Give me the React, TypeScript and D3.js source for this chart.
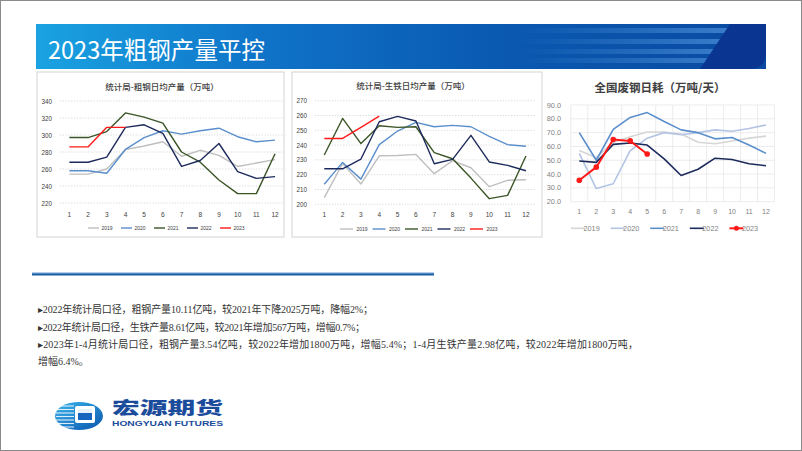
import React from 'react';
import * as d3 from 'd3';

// ---------- DATA ----------
const months = ['1', '2', '3', '4', '5', '6', '7', '8', '9', '10', '11', '12'];
const years = ['2019', '2020', '2021', '2022', '2023'];

// 统计局-粗钢日均产量（万吨）
const steel2019 = [254, 254, 260, 283, 287, 292, 275, 282, 276, 263, 267, 271];
const steel2020 = [258, 258, 255, 283, 297, 305, 301, 305, 308, 298, 292, 294];
const steel2021 = [297, 297, 304, 326, 321, 314, 280, 268, 247, 231, 231, 278];
const steel2022 = [268, 268, 274, 309, 312, 302, 263, 270, 290, 257, 249, 251];
const steel2023 = [286, 286, 309, 309];
const steelTicks = [220, 240, 260, 280, 300, 320, 340];

// 统计局-生铁日均产量（万吨）
const iron2019 = [204.5, 227.5, 213.7, 232.8, 233, 233.7, 220.7, 229.5, 224.7, 211.9, 216.2, 216.6];
const iron2020 = [213.5, 228.3, 217, 240.3, 249.5, 255.4, 252.4, 253.3, 252.4, 245.9, 240.3, 239.2];
const iron2021 = [233.3, 258, 241, 253.1, 252, 252.4, 234.9, 230.8, 217.7, 203.8, 206, 232.6];
const iron2022 = [224, 224, 230.6, 255.8, 259.4, 256.3, 227.4, 230.4, 246.6, 228.6, 226.3, 222.7];
const iron2023 = [244.5, 244.5, 252, 259.6];
const ironTicks = [200, 210, 220, 230, 240, 250, 260, 270];

// 全国废钢日耗（万吨/天）
const scrap2019 = [57, 52, 63, 67, 70.5, 70.5, 69, 63, 62, 64, 66, 67.5];
const scrap2020 = [55, 29.5, 33, 57, 66, 70, 68.5, 70, 72, 71, 73, 75.5];
const scrap2021 = [70, 50, 72.4, 81, 84.5, 78, 72, 70, 65.5, 66.5, 61, 55];
const scrap2022 = [49.5, 48.5, 61.5, 62.5, 61, 51, 39, 43.5, 51.5, 50.5, 47.5, 46];
const scrap2023 = [35.5, 45, 65, 64, 54.5];
const scrapTicks = [20, 30, 40, 50, 60, 70, 80, 90];

const bullets = [
  '▸2022年统计局口径，粗钢产量10.11亿吨，较2021年下降2025万吨，降幅2%；',
  '▸2022年统计局口径，生铁产量8.61亿吨，较2021年增加567万吨，增幅0.7%；',
  '▸2023年1-4月统计局口径，粗钢产量3.54亿吨，较2022年增加1800万吨，增幅5.4%；1-4月生铁产量2.98亿吨，较2022年增加1800万吨，',
  '增幅6.4%。',
];

const CJK = '"Noto Sans CJK SC", "Noto Sans", sans-serif';
const NUM = '"Liberation Sans", Arial, sans-serif';

type Series = { name: string; values: number[]; color: string; width: number; marker?: boolean };

type ChartProps = {
  title: string;
  titleX: number;
  titleY: number;
  titleSize: number;
  titleWeight: number;
  xRange: [number, number];
  yDomain: [number, number];
  yRange: [number, number];
  ticks: number[];
  tickFmt: (v: number) => string;
  yLabelX: number;
  yLabelSize: number;
  xLabelY: number;
  xLabelSize: number;
  labelColor: string;
  gridStyle: 'dot' | 'solid';
  vgrid: boolean;
  series: Series[];
  legendY: number;
  legendX0: number;
  legendStep: number;
  legendLen: number;
  legendTextOff: number;
  legendSize: number;
};

function LineChart(p: ChartProps) {
  const x = d3.scaleBand<string>().domain(months).range(p.xRange).paddingInner(0).paddingOuter(0);
  const y = d3.scaleLinear().domain(p.yDomain).range(p.yRange);
  const cx = (i: number) => (x(months[i]) as number) + x.bandwidth() / 2;
  const line = d3
    .line<number>()
    .x((_, i) => cx(i))
    .y((d) => y(d));
  return (
    <g>
      <text x={p.titleX} y={p.titleY} textAnchor="middle" dominantBaseline="central" fontFamily={CJK} fontSize={p.titleSize} fontWeight={p.titleWeight} fill="#404040">
        {p.title}
      </text>
      {p.ticks.map((t) => (
        <g key={t}>
          <line
            x1={p.xRange[0]}
            x2={p.xRange[1]}
            y1={y(t)}
            y2={y(t)}
            stroke={p.gridStyle === 'dot' ? '#cfcfcf' : '#e4e4e4'}
            strokeWidth={p.gridStyle === 'dot' ? 0.8 : 0.7}
            strokeDasharray={p.gridStyle === 'dot' ? '1.2,1.6' : undefined}
          />
          <text x={p.yLabelX} y={y(t)} textAnchor="end" dominantBaseline="central" fontFamily={NUM} fontSize={p.yLabelSize} fill={p.labelColor}>
            {p.tickFmt(t)}
          </text>
        </g>
      ))}
      {p.vgrid &&
        months.concat(['end']).map((m, i) => {
          const xx = p.xRange[0] + i * x.step();
          return <line key={'v' + m} x1={xx} x2={xx} y1={p.yRange[1]} y2={p.yRange[0]} stroke="#e4e4e4" strokeWidth={0.7} />;
        })}
      {months.map((m, i) => (
        <text key={'x' + m} x={cx(i)} y={p.xLabelY} textAnchor="middle" dominantBaseline="central" fontFamily={NUM} fontSize={p.xLabelSize} fill={p.labelColor}>
          {m}
        </text>
      ))}
      {p.series.map((s) => (
        <g key={s.name}>
          <path d={line(s.values) || ''} fill="none" stroke={s.color} strokeWidth={s.width} strokeLinejoin="round" />
          {s.marker && s.values.map((v, i) => <circle key={i} cx={cx(i)} cy={y(v)} r={2.8} fill={s.color} />)}
        </g>
      ))}
      {p.series.map((s, i) => {
        const lx = p.legendX0 + i * p.legendStep;
        return (
          <g key={'lg' + s.name}>
            <line x1={lx} x2={lx + p.legendLen} y1={p.legendY} y2={p.legendY} stroke={s.color} strokeWidth={s.width} />
            {s.marker && <circle cx={lx + p.legendLen / 2} cy={p.legendY} r={2.5} fill={s.color} />}
            <text x={lx + p.legendTextOff} y={p.legendY} dominantBaseline="central" fontFamily={NUM} fontSize={p.legendSize} fill={p.labelColor}>
              {s.name}
            </text>
          </g>
        );
      })}
    </g>
  );
}

const cSteel = ['#bfbfbf', '#5b8fcc', '#3b5527', '#1d2b5c', '#ff1a1a'];
const cScrap = ['#d6d6d6', '#b3c4e4', '#5b8fcc', '#1d2b5c', '#ff1a1a'];

export default function App() {
  const steelSeries: Series[] = [steel2019, steel2020, steel2021, steel2022, steel2023].map((v, i) => ({ name: years[i], values: v, color: cSteel[i], width: 1.4 }));
  const ironSeries: Series[] = [iron2019, iron2020, iron2021, iron2022, iron2023].map((v, i) => ({ name: years[i], values: v, color: cSteel[i], width: 1.4 }));
  const scrapSeries: Series[] = [scrap2019, scrap2020, scrap2021, scrap2022, scrap2023].map((v, i) => ({
    name: years[i],
    values: v,
    color: cScrap[i],
    width: i === 4 ? 2 : 1.6,
    marker: i === 4,
  }));

  const stripeYs = [28, 39, 49, 58];
  const bulletYs = [309, 327.5, 344.5, 361.5];
  const bulletLens: (number | undefined)[] = [335, 327, 600, undefined];

  return (
    <svg width={802} height={451} style={{ position: 'absolute', left: 0, top: 0, background: '#fff' }}>
      <defs>
        <linearGradient id="band" x1="0" x2="1" y1="0" y2="0">
          <stop offset="0" stopColor="#1aa3e2" />
          <stop offset="0.3" stopColor="#0f74c8" />
          <stop offset="0.65" stopColor="#0a58b0" />
          <stop offset="1" stopColor="#0a4aa2" />
        </linearGradient>
        <linearGradient id="stripe" x1="0" x2="1" y1="0" y2="0">
          <stop offset="0" stopColor="#4a8fd8" stopOpacity="0" />
          <stop offset="1" stopColor="#4a8fd8" stopOpacity="0.75" />
        </linearGradient>
        <linearGradient id="logoG" x1="0" x2="1" y1="0" y2="1">
          <stop offset="0" stopColor="#38b4ec" />
          <stop offset="1" stopColor="#0c56ae" />
        </linearGradient>
      </defs>
      <rect x={0.5} y={0.5} width={801} height={450} fill="#fff" stroke="#8a8a8a" strokeWidth={1} />

      {/* header band */}
      <rect x={36} y={24} width={730} height={45} fill="url(#band)" />
      {stripeYs.map((sy) => (
        <rect key={sy} x={520} y={sy} width={215} height={5} fill="url(#stripe)" />
      ))}
      <path d="M730,24 L766,24 L766,52 Q766,69 749,69 L700,69 Z" fill="#0a3591" />
      <text x={48} y={48} dominantBaseline="central" fontFamily={CJK} fontSize={24} fill="#ffffff" textLength={217} lengthAdjust="spacingAndGlyphs">
        2023年粗钢产量平控
      </text>

      {/* panels */}
      <rect x={37} y={72} width={247} height={165} fill="#fff" stroke="#d4d4d4" strokeWidth={1} />
      <rect x={292} y={72} width={250} height={165} fill="#fff" stroke="#d4d4d4" strokeWidth={1} />

      <LineChart
        title="统计局-粗钢日均产量（万吨）"
        titleX={162}
        titleY={86}
        titleSize={8.5}
        titleWeight={500}
        xRange={[60, 284.4]}
        yDomain={[220, 340]}
        yRange={[203, 101]}
        ticks={steelTicks}
        tickFmt={(v) => String(v)}
        yLabelX={52}
        yLabelSize={6.3}
        xLabelY={214}
        xLabelSize={6.5}
        labelColor="#404040"
        gridStyle="dot"
        vgrid={false}
        series={steelSeries}
        legendY={228}
        legendX0={88}
        legendStep={33}
        legendLen={11}
        legendTextOff={13.5}
        legendSize={5}
      />
      <LineChart
        title="统计局-生铁日均产量（万吨）"
        titleX={413}
        titleY={85}
        titleSize={8.5}
        titleWeight={500}
        xRange={[315.1, 535.1]}
        yDomain={[200, 270]}
        yRange={[204.3, 100.7]}
        ticks={ironTicks}
        tickFmt={(v) => String(v)}
        yLabelX={307}
        yLabelSize={6.3}
        xLabelY={214}
        xLabelSize={6.5}
        labelColor="#404040"
        gridStyle="dot"
        vgrid={false}
        series={ironSeries}
        legendY={229}
        legendX0={340}
        legendStep={32.5}
        legendLen={13}
        legendTextOff={16.5}
        legendSize={5}
      />
      <LineChart
        title="全国废钢日耗（万吨/天）"
        titleX={660}
        titleY={87}
        titleSize={11.5}
        titleWeight={700}
        xRange={[570.8, 774.5]}
        yDomain={[20, 90]}
        yRange={[201.7, 105]}
        ticks={scrapTicks}
        tickFmt={(v) => v.toFixed(1)}
        yLabelX={561}
        yLabelSize={7.3}
        xLabelY={211.7}
        xLabelSize={7}
        labelColor="#7f7f7f"
        gridStyle="solid"
        vgrid={true}
        series={scrapSeries}
        legendY={228.3}
        legendX0={571}
        legendStep={39.6}
        legendLen={14}
        legendTextOff={12.5}
        legendSize={7.3}
      />

      {/* divider */}
      <line x1={32} x2={434} y1={272.6} y2={272.6} stroke="#a9cdee" strokeWidth={1} />
      <line x1={32} x2={434} y1={274.3} y2={274.3} stroke="#1f5ea8" strokeWidth={2.2} />

      {/* bullet text */}
      {bullets.map((b, i) => (
        <text
          key={i}
          x={38}
          y={bulletYs[i]}
          dominantBaseline="central"
          fontFamily={'"Liberation Serif", "Noto Sans CJK SC", serif'}
          fontSize={10}
          fill="#333333"
          textLength={bulletLens[i]}
          lengthAdjust={bulletLens[i] ? 'spacing' : undefined}
        >
          {b}
        </text>
      ))}

      {/* logo */}
      <g>
        <ellipse cx={79} cy={416} rx={24} ry={14} fill="url(#logoG)" />
        {[406, 409.5, 413, 416.5, 420, 423.5, 427].map((ly) => (
          <line key={ly} x1={56} x2={74} y1={ly} y2={ly} stroke="#ffffff" strokeWidth={1.1} opacity={0.85} />
        ))}
        <rect x={75} y={406} width={20} height={17} rx={2} fill="#ffffff" />
        <rect x={78} y={409} width={14} height={11} fill="#1565bf" />
        <rect x={78} y={409} width={14} height={4} fill="#ffffff" opacity={0.9} />
        <text x={112} y={406.5} dominantBaseline="central" fontFamily={CJK} fontWeight={900} fontSize={17} fill="#1b4c9c" textLength={111} lengthAdjust="spacingAndGlyphs">
          宏源期货
        </text>
        <text x={112} y={423.5} dominantBaseline="central" fontFamily={NUM} fontWeight={700} fontSize={7} fill="#1b4c9c" textLength={111} lengthAdjust="spacingAndGlyphs">
          HONGYUAN FUTURES
        </text>
      </g>
    </svg>
  );
}
